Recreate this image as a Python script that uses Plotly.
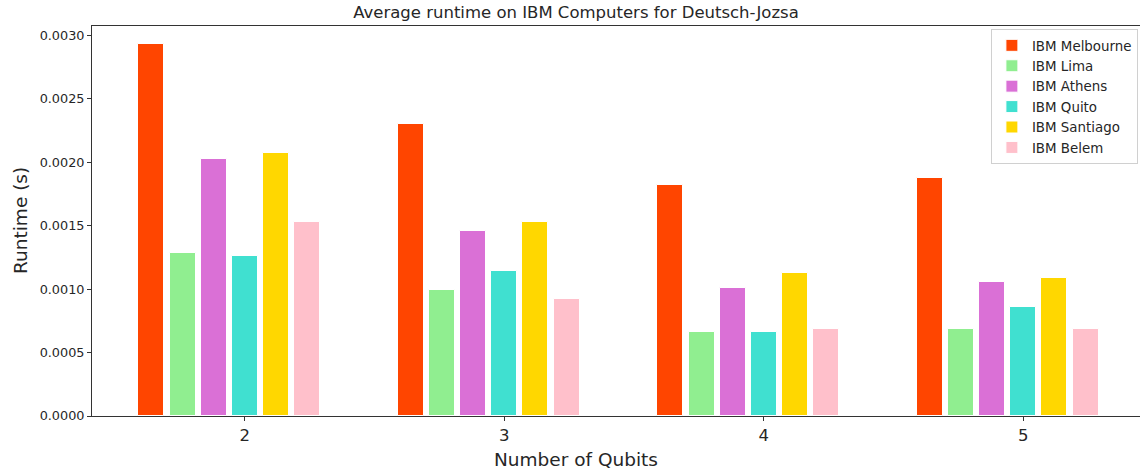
import plotly.graph_objects as go

qubits = ["2", "3", "4", "5"]
computers = ["IBM Melbourne", "IBM Lima", "IBM Athens", "IBM Quito", "IBM Santiago", "IBM Belem"]
colors = ["#FF4500", "#90EE90", "#DA70D6", "#40E0D0", "#FFD700", "#FFC0CB"]

melbourne = [0.00293, 0.00230, 0.00182, 0.00188]
lima      = [0.001285, 0.000996, 0.000665, 0.000686]
athens    = [0.002026, 0.001456, 0.00101, 0.00106]
quito     = [0.00126, 0.001146, 0.000665, 0.00086]
santiago  = [0.00207, 0.00153, 0.00113, 0.001086]
belem     = [0.00153, 0.00092, 0.000686, 0.000686]
series = [melbourne, lima, athens, quito, santiago, belem]

bar_w = 0.1
step = 0.12

W, H = 1140, 474
ml, mr, mt, mb = 92, 0, 26, 58
px_per_unit = 259.5
left_px = 151.4 - ml
xr = [-left_px / px_per_unit, (W - 151.4) / px_per_unit]
ymax = 0.003 * (416 - 26) / 380.5

font_fam = "DejaVu Sans, Arial, sans-serif"
txt = "#262626"

fig = go.Figure()
for j, (name, vals, col) in enumerate(zip(computers, series, colors)):
    fig.add_trace(go.Bar(
        x=[i + j * step for i in range(len(qubits))],
        y=vals,
        name=name,
        width=bar_w,
        marker=dict(color=col, line=dict(color="white", width=1)),
    ))

fig.update_layout(
    width=W, height=H,
    margin=dict(l=ml, r=mr, t=mt, b=mb),
    paper_bgcolor="white", plot_bgcolor="white",
    font=dict(family=font_fam, color=txt),
    bargap=0,
    barmode="overlay",
    title=dict(text="Average runtime on IBM Computers for Deutsch-Jozsa",
               xref="container", x=576 / W, xanchor="center",
               yref="container", y=1 - 12.5 / H, yanchor="middle",
               font=dict(size=16.5, color=txt)),
    legend=dict(x=0.998, xanchor="right", y=0.992, yanchor="top",
                bordercolor="#d0d0d0", borderwidth=1, bgcolor="white",
                font=dict(size=13.4, color=txt), tracegroupgap=0),
    xaxis=dict(range=xr, tickvals=[i + 3 * step for i in range(len(qubits))],
               ticktext=qubits, ticks="outside", ticklen=4, tickcolor="#333",
               showline=True, linecolor="#333", linewidth=1, mirror=True,
               showgrid=False, zeroline=False, tickfont=dict(size=16.5, color=txt)),
    yaxis=dict(range=[0, ymax], tickvals=[0, 0.0005, 0.001, 0.0015, 0.002, 0.0025, 0.003],
               tickformat=".4f", ticks="outside", ticklen=4, tickcolor="#333",
               showline=True, linecolor="#333", linewidth=1, mirror=False,
               showgrid=False, zeroline=False, tickfont=dict(size=12.8, color=txt)),
    annotations=[
        dict(text="Number of Qubits", xref="paper", yref="paper", x=(576 - ml) / (W - ml - mr),
             y=0, yshift=-43, xanchor="center", yanchor="middle", showarrow=False,
             font=dict(size=18.5, color=txt)),
        dict(text="Runtime (s)", xref="paper", yref="paper", x=(20 - ml) / (W - ml - mr),
             y=0.5, xanchor="center", yanchor="middle", textangle=-90, showarrow=False,
             font=dict(size=18.5, color=txt)),
    ],
)

fig.write_html("out.html", config={"displayModeBar": False},
               post_script="document.body.style.margin='0';document.body.style.overflow='hidden';")
